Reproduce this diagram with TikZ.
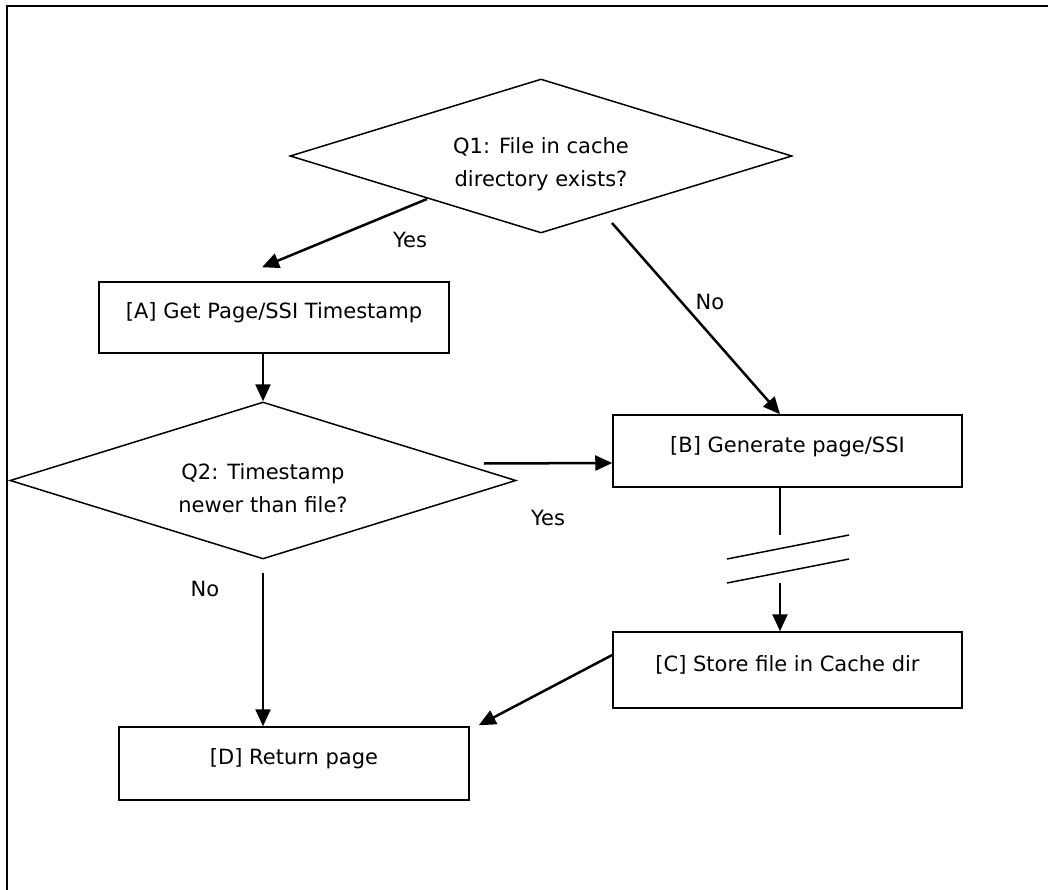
\documentclass[tikz,border=0pt]{standalone}
\usepackage{fontspec}
\setmainfont{DejaVu Sans}
\usetikzlibrary{shapes.geometric,arrows.meta}

\begin{document}
\begin{tikzpicture}[x=1pt,y=-1pt,
    font=\fontsize{21}{33}\selectfont,
    decision/.style={diamond, draw, line width=1.5pt, aspect=3.3, inner sep=0pt, align=center, text height=65pt},
    stepbox/.style={rectangle, draw, line width=1.5pt, inner sep=0pt, text depth=13pt},
    flow/.style={line width=2.5pt, -{Triangle[length=17pt,width=15pt]}},
    answer/.style={inner sep=0pt}]
    % Fix the page size
    \useasboundingbox (0,0) rectangle (1048,890);

    % Draw the frame
    \draw[line width=2.5pt] (7,890) -- (7,6) -- (1048,6);

    % Define the decisions
    \node[decision, minimum width=502pt, minimum height=154pt] (Q1) at (541,156) {Q1: File in cache\\directory exists?};
    \node[decision, minimum width=506pt, minimum height=157pt] (Q2) at (263,480.5) {Q2: Timestamp\\newer than file?};

    % Define the steps
    \node[stepbox, minimum width=350pt, minimum height=71pt] (A) at (274,317.5) {[A] Get Page/SSI Timestamp};
    \node[stepbox, minimum width=349pt, minimum height=72pt] (B) at (787.5,451) {[B] Generate page/SSI};
    \node[stepbox, minimum width=349pt, minimum height=76pt] (C) at (787.5,670) {[C] Store file in Cache dir};
    \node[stepbox, minimum width=350pt, minimum height=73pt] (D) at (294,763.5) {[D] Return page};

    % Draw the arrows
    \draw[flow] ([shift={(-114,43)}]Q1.center) -- ([shift={(-12,-14)}]A.north);
    \draw[flow] ([shift={(71,67)}]Q1.center) -- ([shift={(-7.5,0)}]B.north);
    \draw[flow] (Q2.north |- A.south) -- (Q2.north);
    \draw[flow] ([shift={(-33,-17)}]Q2.east) -- ([shift={(0,12)}]B.west);
    \draw[flow] ([shift={(0,13)}]Q2.south) -- (Q2.south |- D.north);
    \draw[flow] ([shift={(0,-15)}]C.west) -- ([shift={(9,-1)}]D.north east);

    % Draw the break between B and C
    \coordinate (cutTop) at (780,535);
    \coordinate (cutBot) at (780,583);
    \draw[line width=1.5pt] (B.south -| cutTop) -- (cutTop);
    \draw[line width=1.5pt] ([shift={(-53,24)}]cutTop) -- ([shift={(69,0)}]cutTop);
    \draw[line width=1.5pt] ([shift={(-53,0)}]cutBot) -- ([shift={(69,-24)}]cutBot);
    \draw[flow] (cutBot) -- (cutBot |- C.north);

    % Label the answers
    \node[answer] (yes1) at (410,240) {Yes};
    \node[answer] (no1) at (710,302) {No};
    \node[answer] (yes2) at (548,518) {Yes};
    \node[answer] (no2) at (205,589) {No};

\end{tikzpicture}
\end{document}
